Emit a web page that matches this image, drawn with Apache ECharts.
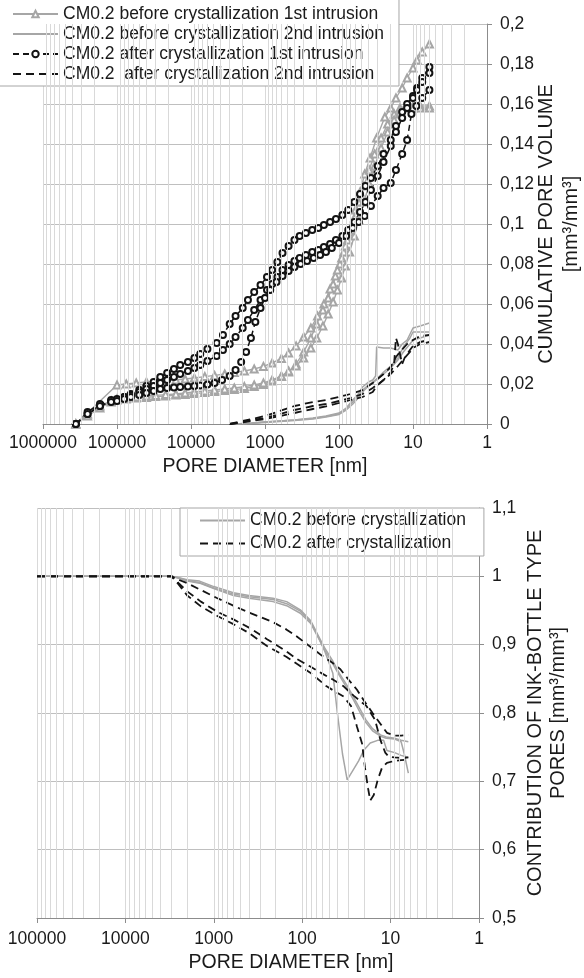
<!DOCTYPE html>
<html>
<head>
<meta charset="utf-8">
<script src="https://cdn.jsdelivr.net/npm/echarts@6/dist/echarts.min.js"></script>
<style>
  html, body { margin: 0; padding: 0; background: #fff; }
  #chart { width: 584px; height: 978px; }
</style>
</head>
<body>
<div id="chart"></div>
<script>
// pore diameter [nm], cumulative pore volume [mm3/mm3]
var before1st_a = [[360000,0],[100000,0.0195],[75000,0.020],[55000,0.0205],[40000,0.021],[30000,0.0213],[22000,0.0217],[16000,0.022],[12000,0.0225],[9000,0.023],[6500,0.0237],[4800,0.0243],[3500,0.025],[2600,0.0257],[1900,0.0265],[1400,0.0275],[1050,0.0288],[800,0.0305],[600,0.0328],[480,0.0355],[380,0.039],[300,0.0435],[240,0.048],[195,0.054],[160,0.060],[132,0.0675],[112,0.074],[97,0.080],[86,0.086],[77,0.092],[68,0.099],[60,0.107],[52,0.116],[45,0.125],[38,0.133],[31,0.143],[24,0.1535],[20,0.158],[17,0.163],[14,0.168],[12,0.173],[10,0.178],[8.8,0.182],[7.5,0.186],[6,0.19]];
var before1st_b = [[360000,0],[250000,0.004],[170000,0.008],[120000,0.011],[100000,0.012],[75000,0.0125],[55000,0.013],[40000,0.0133],[30000,0.0137],[22000,0.014],[16000,0.0145],[12000,0.0148],[9000,0.0152],[6500,0.0157],[4800,0.0162],[3500,0.0167],[2600,0.0172],[1900,0.0178],[1400,0.0187],[1050,0.0198],[800,0.0215],[600,0.0237],[480,0.026],[380,0.030],[300,0.036],[240,0.043],[200,0.050],[165,0.057],[140,0.063],[120,0.070],[105,0.077],[92,0.083],[82,0.089],[72,0.096],[62,0.103],[54,0.111],[46,0.119],[39,0.127],[33,0.135],[27,0.143],[22,0.150],[18,0.155],[15,0.158],[12,0.159],[10,0.159],[8,0.159],[6,0.159]];
var before1st_c = [[360000,0],[250000,0.005],[170000,0.009],[120000,0.0115],[100000,0.0125],[75000,0.013],[55000,0.0135],[40000,0.014],[30000,0.0143],[22000,0.0147],[16000,0.015],[12000,0.0155],[9000,0.016],[6500,0.0165],[4800,0.017],[3500,0.0175],[2600,0.018],[1900,0.0187],[1400,0.0195],[1050,0.0205],[800,0.022],[600,0.024],[480,0.0265],[380,0.029],[300,0.033],[240,0.038],[200,0.043],[165,0.049],[140,0.055],[120,0.061],[105,0.067],[92,0.073],[82,0.079],[72,0.086],[62,0.094],[54,0.102],[46,0.111],[39,0.12],[33,0.129],[27,0.138],[22,0.146],[18,0.152],[15,0.156],[12,0.158],[10,0.158],[8,0.158],[6,0.158]];

var before2nd_a = [[2500,0],[1500,0.0005],[1000,0.001],[630,0.0015],[400,0.002],[225,0.003],[150,0.004],[100,0.0055],[80,0.008],[65,0.012],[55,0.015],[48,0.0185],[40,0.021],[35,0.022],[32,0.024],[31,0.0385],[25,0.038],[20,0.038],[16,0.037],[14,0.040],[12,0.042],[10,0.048],[8,0.049],[6,0.0505]];
var before2nd_b = [[2500,0],[1500,0.0005],[1000,0.001],[630,0.0015],[400,0.002],[225,0.0028],[150,0.0038],[100,0.005],[80,0.0075],[65,0.011],[55,0.014],[48,0.017],[40,0.0195],[35,0.021],[30,0.023],[25,0.026],[20,0.029],[16,0.033],[13.5,0.0385],[11,0.043],[10,0.046],[8,0.046],[6,0.046]];
var before2nd_c = [[2000,0],[1000,0.0008],[630,0.0012],[400,0.0018],[225,0.0025],[150,0.0035],[100,0.0048],[80,0.007],[65,0.010],[55,0.013],[48,0.016],[40,0.019],[35,0.0205],[30,0.0225],[25,0.025],[20,0.028],[16,0.032],[13.5,0.036],[11,0.040],[10,0.042],[8,0.043],[6,0.0445]];

var after1st_a = [[360000,0],[250000,0.005],[170000,0.009],[120000,0.0115],[100000,0.012],[80000,0.0135],[65000,0.015],[50000,0.017],[40000,0.019],[32000,0.021],[26000,0.0235],[21000,0.0255],[17000,0.0275],[14000,0.0295],[11000,0.031],[9000,0.033],[7500,0.035],[6000,0.0375],[4500,0.0405],[3700,0.0445],[3000,0.050],[2500,0.054],[2000,0.058],[1700,0.062],[1400,0.066],[1150,0.0695],[940,0.0735],[800,0.077],[680,0.081],[580,0.0855],[480,0.089],[400,0.092],[340,0.094],[280,0.0955],[230,0.097],[190,0.098],[160,0.0995],[132,0.101],[110,0.1025],[90,0.1045],[75,0.107],[62,0.111],[52,0.115],[44,0.119],[37,0.123],[30,0.129],[25,0.135],[20,0.142],[17,0.149],[14,0.156],[12,0.160],[10,0.164],[8.8,0.168],[7.5,0.173],[6,0.1785]];
var after1st_b = [[360000,0],[250000,0.006],[170000,0.01],[120000,0.012],[100000,0.0125],[80000,0.0135],[65000,0.0145],[50000,0.016],[40000,0.0175],[32000,0.019],[26000,0.0205],[21000,0.022],[17000,0.0235],[14000,0.025],[11000,0.0265],[9000,0.028],[7500,0.0295],[6000,0.0315],[4500,0.034],[3700,0.037],[3000,0.040],[2500,0.0435],[2000,0.048],[1700,0.052],[1400,0.057],[1150,0.062],[940,0.067],[800,0.070],[680,0.0735],[580,0.077],[480,0.0795],[400,0.0815],[340,0.083],[280,0.0845],[230,0.086],[190,0.087],[160,0.0885],[132,0.09],[110,0.092],[90,0.094],[75,0.097],[62,0.101],[52,0.106],[44,0.111],[37,0.117],[30,0.124],[25,0.131],[20,0.139],[17,0.146],[14,0.153],[12,0.158],[10,0.163],[8.8,0.167],[7.5,0.171],[6,0.1755]];
var after1st_c = [[360000,0],[250000,0.005],[170000,0.009],[120000,0.011],[100000,0.0115],[80000,0.0125],[65000,0.0135],[50000,0.0145],[40000,0.0155],[32000,0.0165],[26000,0.0175],[21000,0.018],[17000,0.0183],[14000,0.0185],[11000,0.0187],[9000,0.019],[7500,0.0193],[6000,0.0197],[4800,0.0205],[3800,0.022],[3000,0.024],[2500,0.027],[2100,0.031],[1800,0.036],[1550,0.043],[1350,0.051],[1150,0.058],[1000,0.063],[850,0.067],[700,0.071],[580,0.074],[480,0.0765],[400,0.0785],[330,0.08],[270,0.0815],[220,0.083],[180,0.0845],[150,0.086],[125,0.088],[100,0.0905],[80,0.094],[65,0.098],[54,0.101],[45,0.104],[37,0.109],[30,0.114],[25,0.118],[20,0.1205],[17,0.127],[14,0.135],[12,0.142],[10.5,0.155],[9,0.159],[7.5,0.163],[6,0.167]];

var after2nd_a = [[3000,0],[2000,0.0015],[1500,0.0025],[1000,0.004],[630,0.0065],[400,0.009],[225,0.011],[150,0.012],[100,0.0135],[70,0.015],[48,0.017],[35,0.0205],[25,0.025],[20,0.0285],[17,0.0335],[15,0.036],[12,0.040],[10,0.042],[8,0.044],[6,0.0445]];
var after2nd_b = [[3000,0],[2000,0.001],[1500,0.002],[1000,0.003],[630,0.005],[400,0.007],[225,0.009],[150,0.010],[100,0.0115],[70,0.013],[48,0.015],[35,0.018],[25,0.022],[20,0.026],[18,0.030],[17,0.043],[16,0.040],[15,0.035],[14,0.030],[13,0.033],[11,0.037],[10,0.039],[8,0.041],[6,0.042]];
var after2nd_c = [[3000,0],[2000,0.0008],[1500,0.0015],[1000,0.0025],[630,0.004],[400,0.0055],[225,0.0075],[150,0.0088],[100,0.0105],[70,0.012],[48,0.0135],[35,0.016],[31,0.019],[25,0.022],[20,0.025],[16,0.029],[13,0.033],[11,0.036],[10,0.038],[8,0.040],[6,0.041]];

// pore diameter [nm], contribution of ink-bottle type pores
var inkBefore_a = [[100000,1],[3000,1],[2500,0.998],[2000,0.995],[1450,0.993],[1000,0.985],[600,0.976],[400,0.972],[214,0.968],[150,0.963],[105,0.951],[80,0.935],[67,0.915],[55,0.894],[45,0.876],[38,0.858],[31,0.84],[26,0.822],[22,0.805],[19,0.79],[16,0.777],[13,0.768],[11.2,0.765],[9,0.763],[7.6,0.760],[6.3,0.758]];
var inkBefore_b = [[100000,1],[3000,1],[2500,0.997],[2000,0.993],[1450,0.99],[1000,0.982],[600,0.972],[400,0.968],[214,0.963],[150,0.957],[105,0.946],[80,0.931],[67,0.912],[55,0.891],[45,0.872],[38,0.855],[31,0.836],[26,0.818],[22,0.80],[19,0.786],[16,0.774],[13,0.766],[11.2,0.763],[9,0.762],[7.6,0.758],[7,0.74],[6.3,0.712]];
var inkBefore_c = [[100000,1],[3000,1],[2500,0.998],[2000,0.994],[1450,0.991],[1000,0.983],[600,0.974],[400,0.970],[214,0.966],[150,0.96],[105,0.949],[80,0.933],[67,0.914],[55,0.889],[48,0.868],[45,0.858],[40,0.80],[35,0.74],[31,0.702],[27,0.715],[23,0.73],[20,0.746],[17,0.756],[14,0.76],[12,0.76],[11,0.745],[9,0.742],[7.6,0.738],[6.3,0.735]];

var inkAfter_a = [[100000,1],[3000,1],[2500,0.995],[2000,0.99],[1400,0.98],[910,0.968],[600,0.957],[400,0.947],[214,0.933],[150,0.922],[115,0.912],[81,0.897],[60,0.884],[45,0.873],[37,0.864],[30,0.849],[24,0.834],[20,0.818],[16,0.80],[13,0.784],[11,0.771],[9,0.767],[7.6,0.767],[6.3,0.768]];
var inkAfter_b = [[100000,1],[3000,1],[2500,0.99],[2000,0.978],[1400,0.963],[910,0.948],[600,0.937],[400,0.925],[250,0.908],[150,0.89],[115,0.879],[81,0.868],[60,0.858],[45,0.849],[34,0.839],[26,0.825],[18.7,0.81],[15,0.79],[13,0.76],[11.5,0.742],[10.5,0.736],[9,0.735],[7.6,0.734],[6.3,0.735]];
var inkAfter_c = [[100000,1],[3000,1],[2500,0.988],[2000,0.972],[1400,0.956],[910,0.942],[600,0.93],[400,0.917],[250,0.898],[150,0.882],[115,0.872],[81,0.859],[53,0.839],[34,0.824],[28,0.81],[24,0.78],[21,0.755],[19.5,0.72],[18,0.69],[17,0.672],[15.5,0.68],[14,0.702],[12.5,0.72],[11,0.727],[9,0.73],[7.6,0.731],[6.3,0.732]];

var namesTop = ['CM0.2 before crystallization 1st intrusion', 'CM0.2 before crystallization 2nd intrusion',
                'CM0.2 after crystallization 1st intrusion', 'CM0.2  after crystallization 2nd intrusion'];
var namesBottom = ['CM0.2 before crystallization', 'CM0.2 after crystallization'];

var FONT = '"Liberation Sans", Arial, sans-serif';
var GREY = '#a6a6a6';
var BLACK = '#141414';

function decadeMinors(maxExp) {
  var out = [];
  for (var e = 0; e < maxExp; e++) {
    for (var m = 2; m < 10; m++) out.push({ xAxis: m * Math.pow(10, e) });
  }
  return out;
}

function gridHelper(idx, maxExp) {
  return {
    type: 'line', xAxisIndex: idx, yAxisIndex: idx, data: [], silent: true, z: 1,
    markLine: {
      silent: true, symbol: 'none', animation: false,
      label: { show: false },
      lineStyle: { color: '#d9d9d9', width: 1, type: 'solid' },
      emphasis: { disabled: true },
      data: decadeMinors(maxExp)
    }
  };
}

function markerLine(name, data, idx, black) {
  return {
    name: name, type: 'line', xAxisIndex: idx, yAxisIndex: idx, data: data, z: 3,
    symbol: black ? 'emptyCircle' : 'emptyTriangle',
    symbolSize: black ? 6 : 7,
    lineStyle: { color: black ? BLACK : GREY, width: black ? 1.5 : 1.4, type: black ? [6, 4] : 'solid' },
    itemStyle: { color: black ? BLACK : GREY, borderWidth: 1.3 }
  };
}

function plainLine(name, data, idx, black) {
  return {
    name: name, type: 'line', xAxisIndex: idx, yAxisIndex: idx, data: data, z: 3,
    symbol: 'none', showSymbol: false,
    lineStyle: { color: black ? BLACK : GREY, width: black ? 1.8 : 1.5, type: black ? [8, 5] : 'solid' },
    itemStyle: { color: black ? BLACK : GREY }
  };
}

// legend entry for a line without markers: hide the symbol drawn on the icon
function noMark(name) {
  return { name: name, itemStyle: { opacity: 0 } };
}

function commaFmt(v) {
  return String(Number(v.toFixed(2))).replace('.', ',');
}

function xAxisCfg(idx, maxVal, splits, gap, pad, margin) {
  return {
    type: 'log', gridIndex: idx, logBase: 10, min: 1, max: maxVal, splitNumber: splits, inverse: true,
    axisLine: { show: true, onZero: false, lineStyle: { color: '#8c8c8c' } },
    axisTick: { show: true, length: 5, lineStyle: { color: '#8c8c8c' } },
    axisLabel: { fontFamily: FONT, fontSize: 17.5, color: '#1a1a1a', margin: margin,
      formatter: function (v) { return String(Math.round(v)); } },
    splitLine: { show: true, lineStyle: { color: '#d9d9d9' } },
    name: 'PORE DIAMETER [nm]', nameLocation: 'middle', nameGap: gap, nameMoveOverlap: false,
    nameTextStyle: { fontFamily: FONT, fontSize: 19.5, color: '#1a1a1a', padding: pad }
  };
}

function yAxisCfg(idx, mn, mx, step, name, gap, lh) {
  return {
    type: 'value', gridIndex: idx, position: 'right', min: mn, max: mx, interval: step,
    axisLine: { show: true, onZero: false, lineStyle: { color: '#8c8c8c' } },
    axisTick: { show: true, length: 5, lineStyle: { color: '#8c8c8c' } },
    axisLabel: { fontFamily: FONT, fontSize: 17.5, color: '#1a1a1a', margin: 13, formatter: commaFmt },
    splitLine: { show: true, lineStyle: { color: '#bfbfbf' } },
    name: name, nameLocation: 'middle', nameGap: gap, nameMoveOverlap: false,
    nameTextStyle: { fontFamily: FONT, fontSize: 20, color: '#1a1a1a', lineHeight: lh, align: 'center' }
  };
}

var chart = echarts.init(document.getElementById('chart'), null, { renderer: 'canvas' });

var option = {
  animation: false,
  backgroundColor: '#ffffff',
  grid: [
    { left: 43, top: 24, width: 444, height: 400, outerBoundsMode: 'none', containLabel: false },
    { left: 37, top: 508, width: 442, height: 410, outerBoundsMode: 'none', containLabel: false }
  ],
  xAxis: [
    xAxisCfg(0, 1000000, 6, 33, [0, 0, 0, 0], 10),
    xAxisCfg(1, 100000, 5, 35, [0, 0, 0, 66], 12)
  ],
  yAxis: [
    yAxisCfg(0, 0, 0.2, 0.02, 'CUMULATIVE PORE VOLUME\n[mm³/mm³]', 47, 25),
    yAxisCfg(1, 0.5, 1.1, 0.1, 'CONTRIBUTION OF INK-BOTTLE TYPE\nPORES [mm³/mm³]', 45, 23)
  ],
  legend: [
    {
      data: [namesTop[0], noMark(namesTop[1]), namesTop[2], noMark(namesTop[3])],
      orient: 'vertical', left: -1, top: -1,
      padding: [5, 15, 2, 13], itemGap: 0, itemWidth: 45, itemHeight: 8,
      backgroundColor: '#ffffff', borderColor: '#a6a6a6', borderWidth: 1, borderRadius: 0,
      selectedMode: false,
      textStyle: { fontFamily: FONT, fontSize: 17.5, color: '#1a1a1a', lineHeight: 20 }
    },
    {
      data: [noMark(namesBottom[0]), noMark(namesBottom[1])],
      orient: 'vertical', left: 180, top: 508,
      padding: [1, 18, 1, 19], itemGap: 0, itemWidth: 45, itemHeight: 8,
      backgroundColor: '#ffffff', borderColor: '#a6a6a6', borderWidth: 1, borderRadius: 0,
      selectedMode: false,
      textStyle: { fontFamily: FONT, fontSize: 17.5, color: '#1a1a1a', lineHeight: 23 }
    }
  ],
  series: [
    gridHelper(0, 6),
    gridHelper(1, 5),
    markerLine(namesTop[0], before1st_a, 0, false),
    markerLine(namesTop[0], before1st_b, 0, false),
    markerLine(namesTop[0], before1st_c, 0, false),
    plainLine(namesTop[1], before2nd_a, 0, false),
    plainLine(namesTop[1], before2nd_b, 0, false),
    plainLine(namesTop[1], before2nd_c, 0, false),
    markerLine(namesTop[2], after1st_a, 0, true),
    markerLine(namesTop[2], after1st_b, 0, true),
    markerLine(namesTop[2], after1st_c, 0, true),
    plainLine(namesTop[3], after2nd_a, 0, true),
    plainLine(namesTop[3], after2nd_b, 0, true),
    plainLine(namesTop[3], after2nd_c, 0, true),
    plainLine(namesBottom[0], inkBefore_a, 1, false),
    plainLine(namesBottom[0], inkBefore_b, 1, false),
    plainLine(namesBottom[0], inkBefore_c, 1, false),
    plainLine(namesBottom[1], inkAfter_a, 1, true),
    plainLine(namesBottom[1], inkAfter_b, 1, true),
    plainLine(namesBottom[1], inkAfter_c, 1, true)
  ]
};

chart.setOption(option);
</script>
</body>
</html>
